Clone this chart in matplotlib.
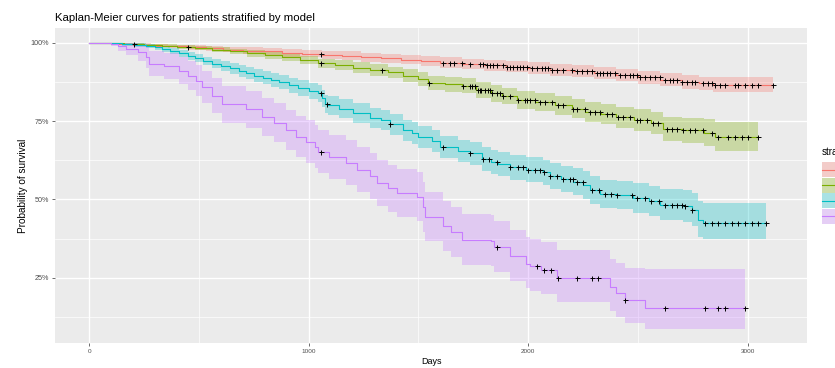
import numpy as np
import matplotlib
matplotlib.use("Agg")
import matplotlib.pyplot as plt
from matplotlib.patches import Rectangle
from matplotlib.lines import Line2D

plt.rcParams['font.family'] = ['Liberation Sans', 'DejaVu Sans']

# ---- Kaplan-Meier estimates per stratum (time in days, survival, 95% CI) ----
strata_labels = ["1", "2", "3", "4"]
colors = ["#F8766D", "#7CAE00", "#00BFC4", "#C77CFF"]

red_t = [0, 60, 130, 200, 280, 360, 450, 530, 610, 700, 790, 880, 970, 1060, 1150, 1240, 1330, 1420,
         1510, 1600, 1700, 1800, 1900, 2000, 2100, 2200, 2300, 2400, 2500, 2600, 2700, 2780, 2840]
red_s = [1.0, .998, .996, .994, .991, .988, .985, .982, .978, .975, .972, .968, .965, .961, .958, .954,
         .950, .946, .942, .936, .932, .928, .924, .919, .914, .909, .903, .897, .889, .882, .875, .870, .866]
red_lo = [1.0, .996, .993, .990, .986, .982, .978, .974, .969, .965, .961, .956, .953, .948, .944, .940,
          .935, .931, .926, .919, .915, .910, .906, .901, .895, .890, .883, .877, .868, .861, .853, .848, .843]
red_hi = [1.0, 1.0, .999, .998, .996, .994, .992, .990, .987, .985, .983, .980, .977, .974, .972, .968,
          .965, .961, .958, .953, .949, .946, .942, .937, .933, .928, .923, .917, .910, .903, .897, .892, .889]
red_end = 3114
red_cens = [1058, 1610, 1642, 1664, 1696, 1733, 1778, 1792, 1810, 1824, 1838, 1856, 1883, 1902, 1915, 1929,
            1947, 1961, 1974, 1993, 2016, 2038, 2061, 2075, 2088, 2107, 2130, 2157, 2198, 2221, 2244, 2266,
            2289, 2312, 2326, 2339, 2358, 2371, 2394, 2417, 2440, 2462, 2476, 2494, 2508, 2531, 2554, 2576,
            2599, 2622, 2645, 2658, 2677, 2700, 2722, 2745, 2759, 2795, 2818, 2836, 2850, 2873, 2896, 2941,
            2955, 2987, 3019, 3046, 3114]

green_t = [0, 90, 160, 250, 330, 400, 480, 560, 640, 720, 800, 880, 960, 1040, 1120, 1200, 1280, 1360,
           1430, 1500, 1545, 1620, 1700, 1760, 1830, 1880, 1950, 2030, 2120, 2200, 2260, 2330, 2400, 2480,
           2560, 2615, 2700, 2800, 2850]
green_s = [1.0, .998, .996, .993, .990, .987, .983, .978, .972, .966, .960, .954, .946, .934, .928, .920,
           .913, .905, .895, .884, .872, .867, .862, .850, .838, .830, .818, .810, .800, .790, .780, .772,
           .762, .754, .744, .725, .720, .713, .700]
green_lo = [1.0, .996, .993, .989, .985, .981, .976, .970, .963, .956, .949, .942, .933, .919, .912, .903,
            .895, .886, .875, .863, .850, .844, .838, .825, .812, .803, .790, .781, .770, .759, .748, .739,
            .728, .719, .708, .687, .680, .671, .653]
green_hi = [1.0, 1.0, .999, .997, .995, .993, .990, .986, .981, .976, .971, .966, .959, .949, .944, .937,
            .931, .924, .915, .905, .894, .890, .886, .875, .864, .857, .846, .839, .830, .821, .812, .805,
            .796, .789, .780, .763, .760, .755, .747]
green_end = 3046
green_cens = [205, 448, 1058, 1336, 1550, 1701, 1733, 1742, 1756, 1769, 1778, 1787, 1801, 1815, 1824, 1833,
              1856, 1870, 1883, 1915, 1952, 1984, 1993, 2006, 2029, 2052, 2075, 2107, 2134, 2157, 2202, 2221,
              2257, 2280, 2303, 2326, 2358, 2380, 2408, 2431, 2462, 2494, 2508, 2540, 2567, 2590, 2631, 2654,
              2677, 2704, 2736, 2759, 2795, 2836, 2864, 2909, 2941, 2973, 3001, 3046]

cyan_t = [0, 80, 150, 210, 260, 300, 330, 370, 410, 450, 480, 520, 561, 600, 640, 680, 716, 750, 790, 830,
          866, 910, 950, 1000, 1040, 1062, 1075, 1090, 1140, 1200, 1280, 1330, 1368, 1430, 1470, 1500, 1560,
          1600, 1680, 1733, 1790, 1830, 1860, 1915, 1990, 2066, 2098, 2150, 2203, 2250, 2280, 2326, 2403,
          2476, 2550, 2600, 2704, 2745, 2772, 2795]
cyan_s = [1.0, .998, .995, .993, .990, .985, .980, .973, .966, .958, .950, .942, .933, .925, .918, .910, .903,
          .895, .888, .881, .874, .864, .855, .845, .838, .822, .805, .800, .790, .775, .760, .752, .740, .720,
          .712, .700, .685, .667, .655, .647, .630, .620, .613, .602, .595, .586, .575, .566, .556, .545, .530,
          .517, .514, .504, .495, .483, .479, .467, .435, .426]
cyan_lo = [1.0, .995, .990, .987, .983, .977, .971, .963, .955, .946, .937, .928, .918, .909, .901, .892, .884,
           .875, .867, .859, .851, .840, .830, .819, .811, .794, .776, .770, .760, .744, .728, .720, .707, .686,
           .678, .665, .650, .631, .619, .610, .592, .582, .574, .562, .555, .545, .533, .524, .513, .501, .485,
           .472, .468, .457, .447, .434, .429, .415, .381, .374]
cyan_hi = [1.0, 1.0, 1.0, .999, .997, .993, .989, .983, .977, .970, .963, .956, .948, .941, .935, .928, .922,
           .915, .909, .903, .897, .888, .880, .871, .865, .850, .834, .830, .820, .806, .792, .784, .773, .754,
           .746, .735, .720, .703, .691, .684, .668, .658, .652, .642, .635, .627, .617, .608, .599, .589, .575,
           .562, .560, .551, .543, .532, .529, .519, .495, .488]
cyan_end = 3083
cyan_cens = [1058, 1085, 1368, 1610, 1733, 1792, 1819, 1856, 1915, 1952, 1974, 1997, 2029, 2052, 2070, 2098,
             2130, 2157, 2189, 2202, 2221, 2248, 2289, 2321, 2348, 2376, 2403, 2472, 2494, 2531, 2558, 2595,
             2622, 2654, 2677, 2700, 2713, 2745, 2804, 2836, 2864, 2896, 2928, 2955, 2987, 3019, 3046, 3083]

purple_t = [0, 100, 130, 169, 220, 260, 274, 340, 410, 450, 488, 515, 560, 606, 716, 789, 840, 898, 940, 989,
            1030, 1040, 1094, 1172, 1218, 1280, 1309, 1360, 1400, 1491, 1519, 1530, 1610, 1650, 1700, 1830,
            1845, 1915, 1990, 2006, 2060, 2129, 2371, 2400, 2440, 2531]
purple_s = [1.0, .997, .99, .981, .97, .953, .933, .925, .911, .895, .879, .858, .83, .803, .787, .763, .745,
            .72, .70, .684, .668, .652, .636, .616, .594, .575, .552, .535, .52, .509, .475, .445, .414, .395,
            .371, .368, .347, .318, .295, .287, .276, .25, .22, .202, .178, .154]
purple_lo = [1.0, .990, .975, .960, .943, .920, .895, .885, .868, .850, .830, .806, .775, .745, .728, .702,
             .682, .656, .634, .617, .600, .583, .566, .545, .522, .502, .478, .460, .444, .432, .397, .366,
             .335, .316, .292, .288, .267, .239, .216, .208, .197, .171, .143, .126, .104, .086]
purple_hi = [1.0, 1.0, 1.0, 1.0, .997, .987, .972, .966, .955, .941, .928, .911, .886, .862, .847, .825, .809,
             .786, .767, .752, .737, .722, .707, .688, .667, .649, .627, .611, .597, .587, .554, .525, .495,
             .477, .454, .451, .431, .403, .381, .373, .363, .339, .310, .296, .280, .277]
purple_end = 2987
purple_cens = [1058, 1856, 2038, 2070, 2102, 2134, 2221, 2289, 2316, 2440, 2622, 2804, 2864, 2896, 2987]

strata = [
    (red_t, red_s, red_lo, red_hi, red_end, red_cens),
    (green_t, green_s, green_lo, green_hi, green_end, green_cens),
    (cyan_t, cyan_s, cyan_lo, cyan_hi, cyan_end, cyan_cens),
    (purple_t, purple_s, purple_lo, purple_hi, purple_end, purple_cens),
]

x_ticks = [0, 1000, 2000, 3000]
y_ticks = [0.25, 0.50, 0.75, 1.00]
y_tick_labels = ["25%", "50%", "75%", "100%"]

# ---- figure ----
W, H = 835, 368
fig = plt.figure(figsize=(W / 100, H / 100), dpi=100)
fig.patch.set_facecolor("white")
px_l, px_r, px_t, px_b = 55, 807, 28, 343
ax = fig.add_axes([px_l / W, 1 - px_b / H, (px_r - px_l) / W, (px_b - px_t) / H])
ax.set_facecolor("#EBEBEB")
for sp in ax.spines.values():
    sp.set_visible(False)

ax.set_xlim(-156, 3270)
ax.set_ylim(0.0415, 1.047)

# ggplot-style grid
for xm in [500, 1500, 2500]:
    ax.axvline(xm, color="white", lw=0.5, zorder=0)
for ym in [0.125, 0.375, 0.625, 0.875]:
    ax.axhline(ym, color="white", lw=0.5, zorder=0)
for xv in x_ticks:
    ax.axvline(xv, color="white", lw=1.0, zorder=0)
for yv in y_ticks:
    ax.axhline(yv, color="white", lw=1.0, zorder=0)

for (t, s, lo, hi, end, cens), col in zip(strata, colors):
    tt = np.array(t + [end], dtype=float)
    ss = np.array(s + [s[-1]])
    ll = np.array(lo + [lo[-1]])
    hh = np.array(hi + [hi[-1]])
    ax.fill_between(tt, ll, hh, step="post", color=col, alpha=0.3, lw=0, zorder=1)
    ax.step(tt, ss, where="post", color=col, lw=0.8, zorder=2)
    c = np.array(cens, dtype=float)
    idx = np.searchsorted(tt, c, side="right") - 1
    ax.plot(c, ss[idx], ls="none", marker="+", ms=3.6, mew=0.7, color="black", zorder=3)

ax.set_xticks(x_ticks)
ax.set_xticklabels([str(v) for v in x_ticks])
ax.set_yticks(y_ticks)
ax.set_yticklabels(y_tick_labels)
ax.tick_params(axis="x", length=2.5, width=0.5, color="#333333", labelsize=4.6,
               labelcolor="#4D4D4D", pad=2)
ax.tick_params(axis="y", length=2.5, width=0.5, color="#333333", labelsize=5.2,
               labelcolor="#4D4D4D", pad=2)

ax.set_xlabel("Days", fontsize=6.5, labelpad=2)
fig.text(23 / W, 1 - (px_t + px_b) / 2 / H, "Probability of survival", fontsize=7.2,
         rotation=90, ha="center", va="center")

fig.text(55 / W, 1 - 21 / H, "Kaplan-Meier curves for patients stratified by model",
         fontsize=8.2, ha="left", va="baseline")

# legend (runs off the right edge)
fig.text(822 / W, 1 - 152 / H, "strata", fontsize=7, ha="left", va="center")
key_tops = [162, 177.5, 193, 208.5]
for kt, col in zip(key_tops, colors):
    kb = kt + 15
    fig.patches.append(Rectangle((822 / W, 1 - kb / H), 20 / W, 15 / H,
                                 transform=fig.transFigure, facecolor="#F2F2F2",
                                 edgecolor="none"))
    fig.patches.append(Rectangle((822 / W, 1 - kb / H), 20 / W, 15 / H,
                                 transform=fig.transFigure, facecolor=col, alpha=0.3,
                                 edgecolor="none"))
    ym = 1 - (kt + 7.5) / H
    fig.lines.append(Line2D([822 / W, 842 / W], [ym, ym], transform=fig.transFigure,
                            color=col, lw=0.8))

fig.savefig("out.png", dpi=100)
